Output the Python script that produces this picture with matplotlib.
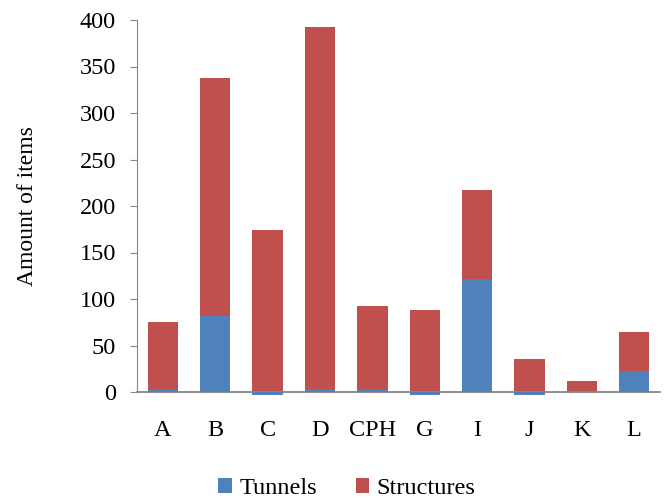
import matplotlib.pyplot as plt
import numpy as np

categories = ["A", "B", "C", "D", "CPH", "G", "I", "J", "K", "L"]
tunnels = [2, 82, -3, 3, 3, -3, 122, -3, 0, 23]
totals = [75, 338, 174, 392, 92, 88, 217, 36, 12, 64]

blue = "#4F81BD"
red = "#C0504D"

plt.rcParams["font.family"] = ["Liberation Serif", "DejaVu Serif"]

tun = np.array(tunnels, dtype=float)
base = np.clip(tun, 0, None)
structures = np.array(totals, dtype=float) - base

fig = plt.figure(figsize=(6.67, 5.0), dpi=100)
ax = fig.add_axes([0.205, 0.216, 0.785, 0.744])

x = np.arange(len(categories))
width = 0.58
ax.bar(x, tun, width, color=blue, label="Tunnels", zorder=4, clip_on=False)
ax.bar(x, structures, width, bottom=base, color=red, label="Structures",
       zorder=2, clip_on=False)

ax.set_xlim(-0.5, len(categories) - 0.5)
ax.set_ylim(0, 400)
ax.set_yticks(np.arange(0, 401, 50))
ax.set_xticks(x)
ax.set_xticklabels(categories)
ax.tick_params(axis="both", labelsize=17.5, colors="#868686", labelcolor="black")
ax.tick_params(axis="x", length=0, pad=20)
ax.tick_params(axis="y", length=5, pad=10)
ax.set_ylabel("Amount of items", fontsize=17, labelpad=30)

for side in ("top", "right"):
    ax.spines[side].set_visible(False)
ax.spines["left"].set_color("#868686")
ax.spines["bottom"].set_color("#868686")
ax.spines["bottom"].set_linewidth(1.3)
ax.spines["bottom"].set_zorder(3)

fig.legend(loc="lower center", bbox_to_anchor=(0.52, -0.042), ncol=2,
           frameon=False, fontsize=17.5, handlelength=0.55, handleheight=0.55,
           handletextpad=0.3, columnspacing=1.6)

fig.savefig("out.png", dpi=100)
